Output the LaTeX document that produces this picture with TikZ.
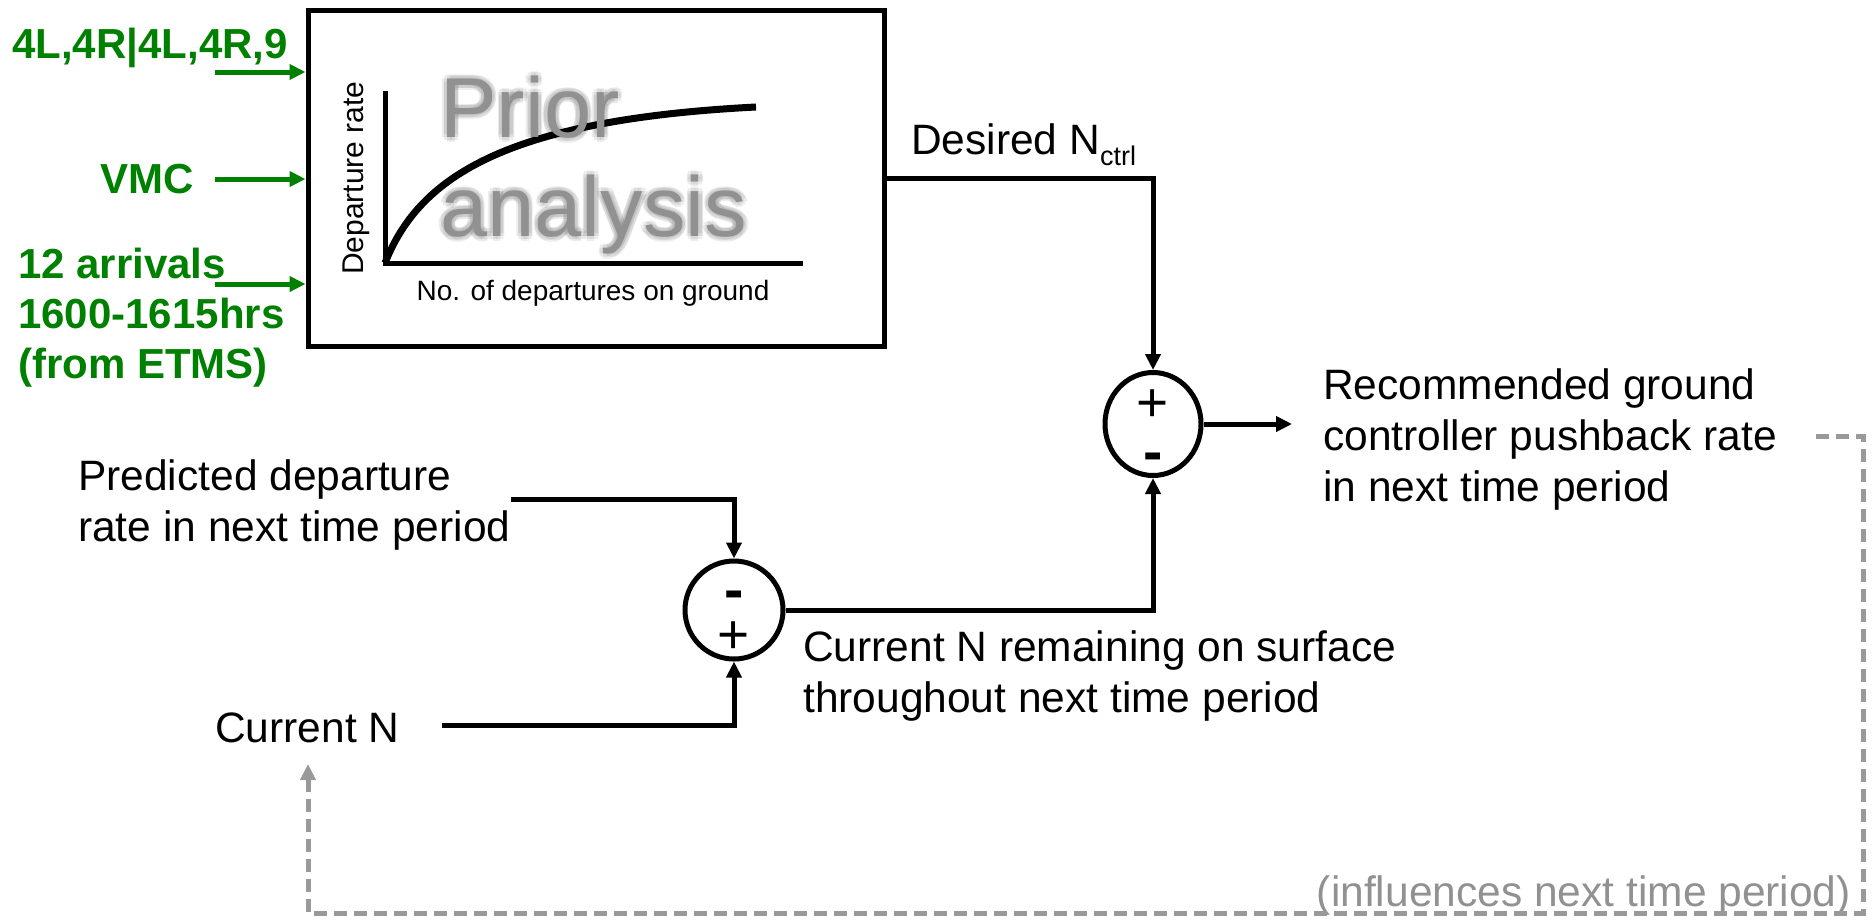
\documentclass[tikz,border=0pt]{standalone}
\usepackage{fontspec}
\setmainfont{Liberation Sans}
\usetikzlibrary{arrows.meta,shapes.geometric,calc}
\definecolor{ggreen}{RGB}{0,128,0}
\definecolor{dgray}{RGB}{153,153,153}
\definecolor{tgray}{RGB}{145,145,145}
\begin{document}
\begin{tikzpicture}[x=1pt,y=-1pt,
  txt/.style={font=\fontsize{42.5}{51}\selectfont, inner sep=0, align=left},
  gtxt/.style={font=\fontsize{42}{50}\selectfont\bfseries, text=ggreen, inner sep=0, align=left},
  tip/.style={-{Triangle[length=16pt,width=15pt]}},
  conn/.style={draw=black, line width=5pt, tip},
  garrow/.style={draw=ggreen, line width=5pt, tip},
  sumnode/.style={draw, line width=5pt, ellipse, inner sep=0},
  fb/.style={draw=dgray, line width=5pt, dash pattern=on 13pt off 7pt, tip},
  prior/.style={font=\fontsize{85}{99}\selectfont, inner sep=0, align=left, anchor=north west},
  signp/.style={font=\fontsize{55}{55}\selectfont, inner sep=0},
  signm/.style={font=\fontsize{58}{58}\selectfont\bfseries, inner sep=0},
]
\useasboundingbox (0,0) rectangle (1873,919);

% prior analysis box
\node[draw, line width=5pt, minimum width=576pt, minimum height=336pt, inner sep=0] (box) at (596,178) {};

% plot inside
\coordinate (o) at (385,263);
\coordinate (ytop) at (385,91);
\coordinate (xend) at (803,263);
\coordinate (cend) at (756,107);
\draw[line width=5pt] (ytop) -- (o) -- (xend);
\draw[line width=7pt] (o) .. controls (418,180) and (500,120) .. (cend);
\node[font=\fontsize{30}{32}\selectfont, rotate=90, inner sep=0] (ylab) at (356,178) {Departure rate};
\node[font=\fontsize{28}{30}\selectfont, inner sep=0] (xlab) at (593,293) {No. of departures on ground};

% glowing "Prior analysis"
\foreach \a in {0,45,...,315}{
  \node[prior, text=black, opacity=0.07] at ($(440,76)+(\a:4.5)$) {Prior\\analysis};
}
\node[prior, text=tgray] (pa) at (440,76) {Prior\\analysis};

% green inputs
\node[gtxt, anchor=base west] (rw) at (12,58) {4L,4R|4L,4R,9};
\node[gtxt, anchor=base east] (vmc) at (194,193) {VMC};
\node[gtxt, anchor=north west] (arr) at (18,248) {12 arrivals\\1600-1615hrs\\(from ETMS)};
\coordinate (g1) at (215,72);
\coordinate (g2) at (215,179);
\coordinate (g3) at (215,284);
\draw[garrow] (g1) -- (g1 -| box.west);
\draw[garrow] (g2) -- (g2 -| box.west);
\draw[garrow] (g3) -- (g3 -| box.west);

% summing junctions
\node[sumnode, minimum width=96pt, minimum height=103pt] (s1) at (1153,424) {};
\node[sumnode, minimum width=98pt, minimum height=98pt] (s2) at (734,610) {};
\node[signp] (s1p) at (1153,406) {+};
\node[signm] (s1m) at (1153,462) {-};
\node[signm] (s2m) at (734,600) {-};
\node[signp] (s2p) at (734,638) {+};

% texts
\node[txt, anchor=base west] (des) at (911,154) {Desired N\raisebox{-11pt}{\fontsize{27}{27}\selectfont ctrl}};
\node[txt, anchor=north west] (rec) at (1323,368) {Recommended ground\\controller pushback rate\\in next time period};
\node[txt, anchor=north west] (pred) at (78,459) {Predicted departure\\rate in next time period};
\node[txt, anchor=base west] (cur) at (215,742) {Current N};
\node[txt, anchor=north west] (rem) at (803,630) {Current N remaining on surface\\throughout next time period};
\node[font=\fontsize{42.5}{50}\selectfont, inner sep=0, anchor=base east, text=tgray] (inf) at (1851,906) {(influences next time period)};

% connectors
\coordinate (out) at (1292,424);
\coordinate (p0) at (511,499);
\coordinate (c0) at (442,725);
\draw[conn] (box.east) -| (s1.north);
\draw[conn] (s1.east) -- (out);
\draw[conn] (p0) -| (s2.north);
\draw[conn] (c0) -| (s2.south);
\draw[conn] (s2.east) -| (s1.south);

% feedback
\coordinate (f0) at (1816,436);
\coordinate (f1) at (1863,436);
\coordinate (f2) at (1863,913);
\coordinate (fc) at (308,764);
\draw[fb] (f0) -- (f1) -- (f2) -| (fc);
\end{tikzpicture}
\end{document}
